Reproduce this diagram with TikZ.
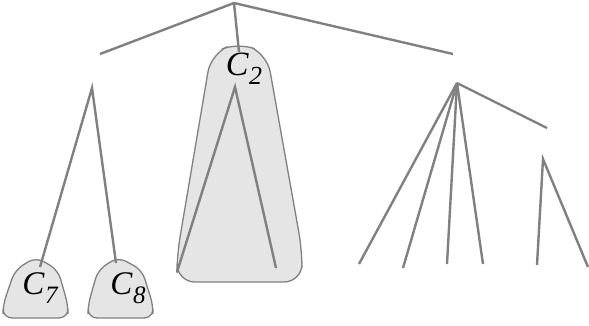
\documentclass[tikz,border=0pt]{standalone}
\usepackage{fontspec}
\setmainfont{Liberation Serif}
\newcommand{\csub}[3]{{\fontsize{#1}{#1}\selectfont\itshape C\kern0.5pt\raisebox{-0.26em}{\fontsize{#2}{#2}\selectfont\itshape #3}}}
\begin{document}
\begin{tikzpicture}[x=1pt,y=-1pt,
  edge/.style={draw=black!50,line width=2.4pt},
  blob/.style={draw=black!50,line width=1.3pt,fill=black!10},
  lab/.style={inner sep=0pt}]
\useasboundingbox (0,0) rectangle (589,325);
% blobs
\draw[blob,rounded corners=9pt] (3,318) -- (3,305) -- (15,270) -- (36,257) -- (58,270) -- (68,305) -- (68,318) -- cycle;
\draw[blob,rounded corners=9pt] (88,318) -- (88,305) -- (98,270) -- (118,257) -- (142,270) -- (153,305) -- (153,318) -- cycle;
\draw[blob,rounded corners=18pt] (177,282) -- (177,255) -- (211,54) -- (238,42) -- (267,54) -- (302,250) -- (302,282) -- cycle;
% coordinates
\coordinate (r) at (234,3);
\coordinate (a) at (100,54);
\coordinate (b) at (239,52);
\coordinate (c) at (453,54);
\coordinate (l) at (92,88);
\coordinate (l1) at (40,267);
\coordinate (l2) at (116,263);
\coordinate (m) at (235,87);
\coordinate (m1) at (177,272);
\coordinate (m2) at (276,268);
\coordinate (n) at (457,83);
\coordinate (n1) at (359,264);
\coordinate (n2) at (403,268);
\coordinate (n3) at (447,264);
\coordinate (n4) at (483,264);
\coordinate (n5) at (547,128);
\coordinate (p) at (543,159);
\coordinate (p1) at (537,265);
\coordinate (p2) at (588,267);
% labels
\node[lab] (c7) at (40,288) {\csub{33}{25}{7}};
\node[lab] (c8) at (128,288) {\csub{33}{25}{8}};
\node[lab] (c2) at (244,69) {\csub{34}{26}{2}};
% edges
\draw[edge] (a) -- (r) -- (c);
\draw[edge] (r) -- (b);
\draw[edge] (l1) -- (l) -- (l2);
\draw[edge] (m1) -- (m) -- (m2);
\draw[edge] (n) -- (n1);
\draw[edge] (n) -- (n2);
\draw[edge] (n) -- (n3);
\draw[edge] (n) -- (n4);
\draw[edge] (n) -- (n5);
\draw[edge] (p1) -- (p) -- (p2);
\end{tikzpicture}
\end{document}
